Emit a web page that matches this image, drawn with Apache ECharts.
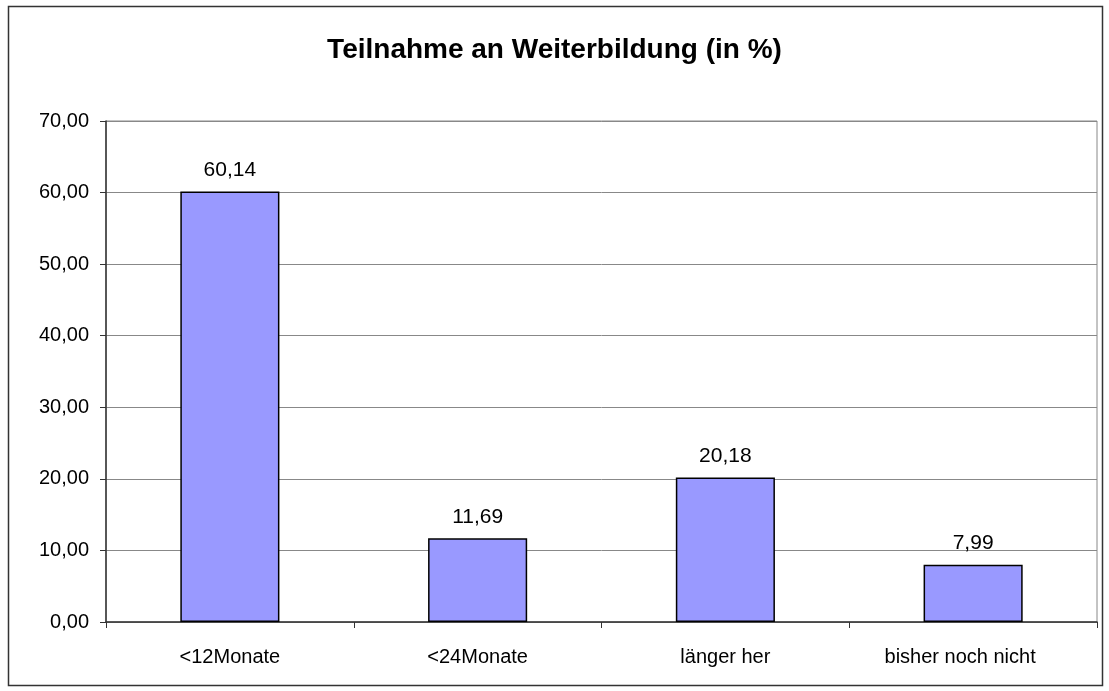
<!DOCTYPE html>
<html>
<head>
<meta charset="utf-8">
<script src="https://cdn.jsdelivr.net/npm/echarts@6/dist/echarts.min.js"></script>
<style>
html,body{margin:0;padding:0;background:#fff;}
#c{width:1109px;height:691px;}
</style>
</head>
<body>
<div id="c"></div>
<script>
const title = 'Teilnahme an Weiterbildung (in %)';
const categories = ['<12Monate', '<24Monate', 'länger her', 'bisher noch nicht'];
const values = [60.14, 11.69, 20.18, 7.99];
const yTicks = { min: 0, max: 70, interval: 10 };

const fmt = v => Number(v).toFixed(2).replace('.', ',');
const FONT = 'Liberation Sans, Arial, sans-serif';
const chart = echarts.init(document.getElementById('c'), null, { renderer: 'canvas' });
chart.setOption({
  animation: false,
  backgroundColor: '#fff',
  textStyle: { fontFamily: FONT },
  title: {
    text: title, left: 'center', top: 31,
    textStyle: { fontSize: 28, fontWeight: 'bold', color: '#000', fontFamily: FONT }
  },
  graphic: [{
    type: 'rect', shape: { x: 8.5, y: 6.5, width: 1094, height: 679 },
    style: { fill: 'none', stroke: '#333', lineWidth: 1.5 }, silent: true, z: 100
  }],
  grid: { left: 106, right: 12, top: 121, bottom: 69, show: true, borderColor: '#888', borderWidth: 1, backgroundColor: '#fff' },
  xAxis: {
    type: 'category', data: categories,
    axisLine: { lineStyle: { color: '#333', width: 1.5 } },
    axisTick: { show: true, alignWithLabel: false, length: 6, lineStyle: { color: '#333' } },
    axisLabel: {
      fontSize: 20, color: '#000', margin: 25,
      formatter: (v, i) => i === categories.length - 1 ? '{l|' + v + '}' : v,
      rich: { l: { fontSize: 20, color: '#000', padding: [0, 26, 0, 0] } }
    },
    splitLine: { show: false }
  },
  yAxis: {
    type: 'value', min: yTicks.min, max: yTicks.max, interval: yTicks.interval,
    axisLine: { show: true, lineStyle: { color: '#333', width: 1.5 } },
    axisTick: { show: true, length: 6, lineStyle: { color: '#333' } },
    axisLabel: { fontSize: 20, color: '#000', margin: 17, formatter: fmt },
    splitLine: { show: true, lineStyle: { color: '#888', width: 1 } }
  },
  series: [{
    type: 'bar', data: values, barWidth: '40%',
    itemStyle: { color: '#9999FF', borderColor: '#000', borderWidth: 1.5 },
    label: { show: true, position: 'top', distance: 11, fontSize: 21, color: '#000', formatter: p => fmt(p.value) }
  }]
});
</script>
</body>
</html>
